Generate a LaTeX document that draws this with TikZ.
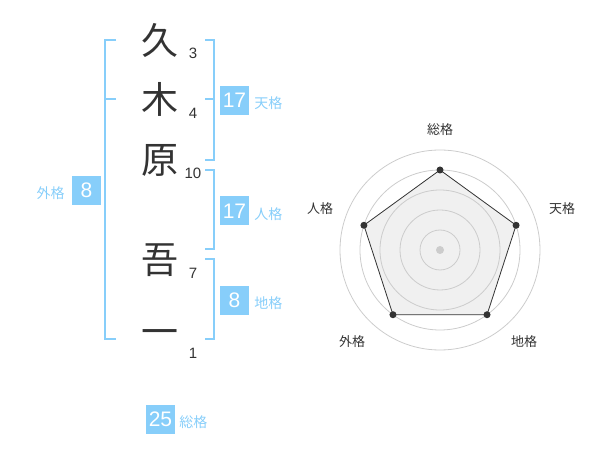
\documentclass[tikz,border=0pt]{standalone}
\usepackage{fontspec}
\setmainfont{Liberation Sans}
\newfontfamily\jp{Noto Sans CJK JP}
\usepackage{xcolor}
\usepackage{tikz}
\usetikzlibrary{positioning}

\definecolor{kakublue}{RGB}{135,206,250}
\definecolor{inkgray}{RGB}{51,51,51}
\definecolor{ringgray}{RGB}{204,204,204}
\definecolor{fillgray}{RGB}{240,240,240}

\begin{document}
\begin{tikzpicture}[x=1pt, y=-1pt,
    kanji/.style={font=\jp\fontsize{37}{37}\selectfont, text=inkgray, inner sep=0pt},
    strokes/.style={font=\fontsize{15}{15}\selectfont, text=inkgray, inner sep=0pt},
    kakubox/.style={fill=kakublue, text=white, minimum size=29pt, inner sep=0pt, font=\fontsize{21}{21}\selectfont},
    kakulabel/.style={text=kakublue, font=\jp\fontsize{14}{14}\selectfont, inner sep=0pt},
    axislabel/.style={text=inkgray, font=\jp\fontsize{13}{13}\selectfont, inner sep=0pt},
    bracket/.style={draw=kakublue, line width=2pt}]
    \useasboundingbox (0,0) rectangle (600,470);

    % name
    \node[kanji] (c1) at (160, 40) {久};
    \node[kanji] (c2) at (160, 99) {木};
    \node[kanji] (c3) at (160, 160) {原};
    \node[kanji] (c4) at (160, 260) {吾};
    \node[kanji] (c5) at (160, 338) {一};

    \node[strokes] (n1) at (193, 53) {3};
    \node[strokes] (n2) at (193, 113) {4};
    \node[strokes] (n3) at (193, 173) {10};
    \node[strokes] (n4) at (193, 273) {7};
    \node[strokes] (n5) at (193, 353) {1};

    % brackets
    \draw[bracket] (116, 40) -- (105, 40) -- (105, 339) -- (116, 339);
    \draw[bracket] (105, 99) -- (116, 99);
    \draw[bracket] (205, 40) -- (214, 40) -- (214, 160) -- (205, 160);
    \draw[bracket] (205, 99) -- (214, 99);
    \draw[bracket] (205, 170) -- (214, 170) -- (214, 249) -- (205, 249);
    \draw[bracket] (205, 259) -- (214, 259) -- (214, 339) -- (205, 339);

    % kaku values
    \node[kakubox] (ten) at (234.5, 100.5) {17};
    \node[kakulabel, right=5pt of ten, yshift=-3pt] (tenl) {天格};
    \node[kakubox] (jin) at (234.5, 211) {17};
    \node[kakulabel, right=5pt of jin, yshift=-3pt] (jinl) {人格};
    \node[kakubox] (chi) at (234.5, 300.5) {8};
    \node[kakulabel, right=5pt of chi, yshift=-3pt] (chil) {地格};
    \node[kakubox] (gai) at (86.5, 190.5) {8};
    \node[kakulabel, left=7pt of gai, yshift=-3pt] (gail) {外格};
    \node[kakubox] (sou) at (160.5, 419.5) {25};
    \node[kakulabel, right=4pt of sou, yshift=-3pt] (soul) {総格};

    % radar
    \begin{scope}[shift={(440,250)}]
        \foreach \a [count=\i] in {-90,-18,54,126,198}
            \coordinate (v\i) at (\a:80);
        \fill[fillgray] (v1) -- (v2) -- (v3) -- (v4) -- (v5) -- cycle;
        \foreach \r in {20,40,60,80,100}
            \draw[ringgray, line width=0.8pt] (0,0) circle[radius=\r pt];
        \fill[ringgray] (0,0) circle[radius=4pt];
        \draw[inkgray, line width=0.8pt] (v1) -- (v2) -- (v3) -- (v4) -- (v5) -- cycle;
        \foreach \i in {1,...,5}
            \fill[inkgray] (v\i) circle[radius=3.5pt];
    \end{scope}
    \node[axislabel] (a1) at (440, 130) {総格};
    \node[axislabel] (a2) at (562, 209) {天格};
    \node[axislabel] (a3) at (524, 342) {地格};
    \node[axislabel] (a4) at (352, 342) {外格};
    \node[axislabel] (a5) at (320, 209) {人格};
\end{tikzpicture}
\end{document}
